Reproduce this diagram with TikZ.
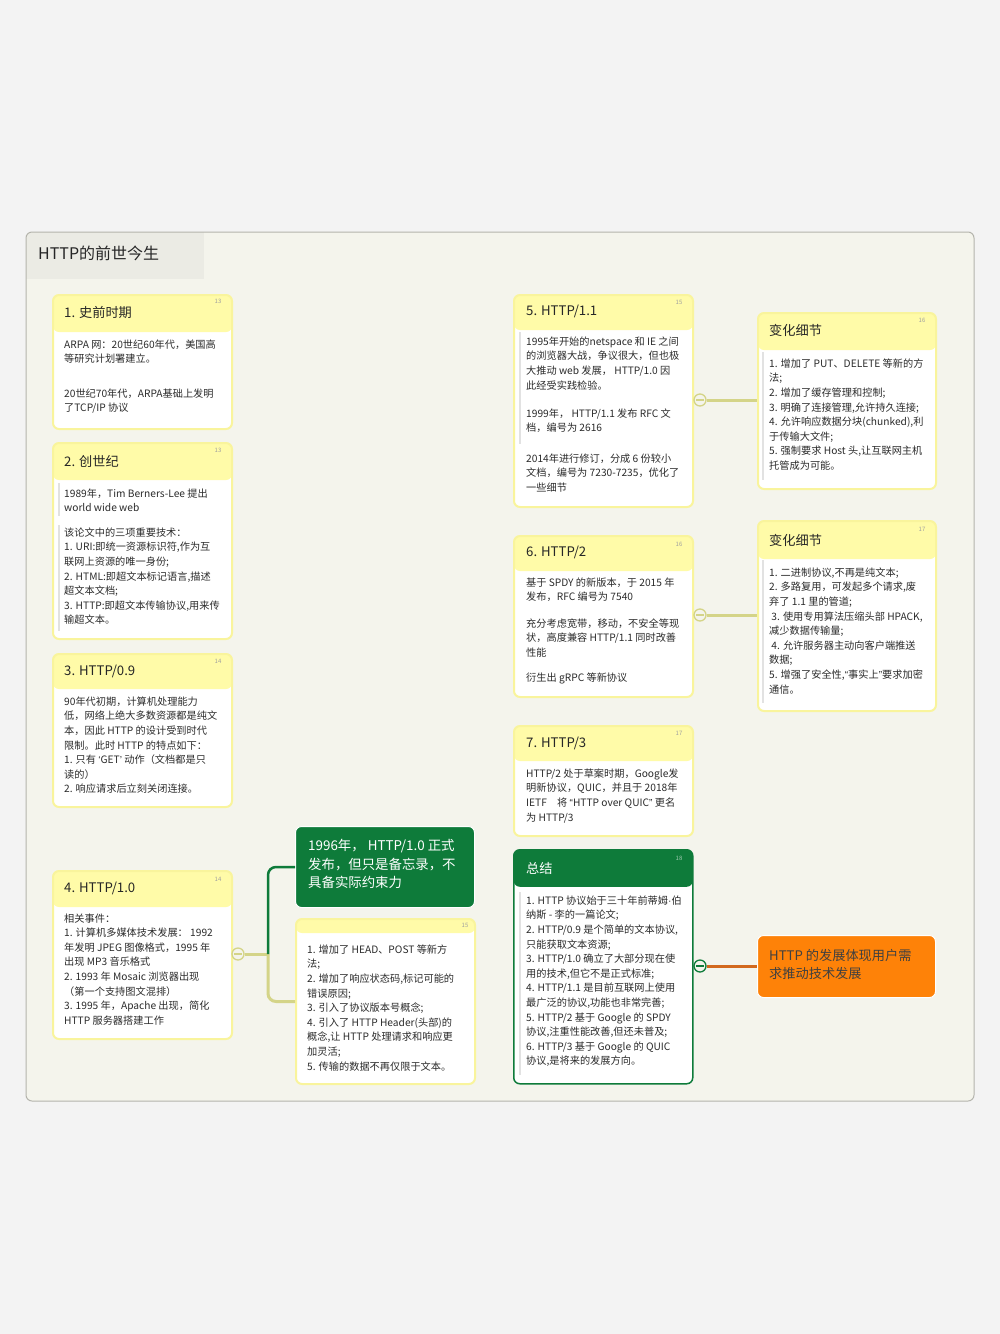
\documentclass[tikz,border=0pt]{standalone}
\usepackage{fontspec}
\setmainfont{Noto Sans CJK SC}
\newfontfamily\qf{Liberation Sans}
\usepackage{tikz}

\definecolor{pagebg}{HTML}{F3F3F3}
\definecolor{canvasbg}{HTML}{F4F4EC}
\definecolor{titlebg}{HTML}{EBEBE4}
\definecolor{framec}{HTML}{B4B4AC}
\definecolor{cardhead}{HTML}{FFFBA8}
\definecolor{cardline}{HTML}{F9F49C}
\definecolor{olive}{HTML}{D4D488}
\definecolor{mmgreen}{HTML}{0E7B3A}
\definecolor{mmorange}{HTML}{FE8208}
\definecolor{orangeline}{HTML}{D2691E}
\definecolor{txt}{HTML}{2B2B2B}
\definecolor{barc}{HTML}{E2E2E2}
\definecolor{numc}{HTML}{A0A0A0}

\tikzset{
  headh/.store in=\headh, headh=36,
  headc/.store in=\headc, headc=cardhead,
  card/.style={draw=cardline, line width=2pt, fill=white, rounded corners=6pt, inner sep=0pt,
    anchor=north west, minimum width=179pt,
    path picture={\fill[\headc] (path picture bounding box.north west) rectangle ([yshift=-\headh pt]path picture bounding box.north east);}},
  cardtitle/.style={anchor=west, inner sep=0pt, font=\fontsize{13.2}{16}\selectfont, text=black!85},
  body/.style={anchor=north west, inner sep=0pt, align=left, font=\fontsize{10.2}{14.6}\selectfont, text=txt},
  num/.style={inner sep=0pt, font=\fontsize{6}{7}\selectfont, text=numc},
  bar/.style={barc, line width=1.5pt},
  fold/.style={circle, draw=#1, line width=1.3pt, fill=canvasbg, minimum size=12pt, inner sep=0pt,
    path picture={\draw[#1, line width=1.3pt] ([xshift=-4pt]path picture bounding box.center) -- ([xshift=4pt]path picture bounding box.center);}},
  fold/.default=olive,
  branch/.style={olive, line width=3pt},
  branchg/.style={mmgreen, line width=2.5pt},
  bigbox/.style={draw=white, line width=1pt, rounded corners=6pt, inner sep=0pt, anchor=north west,
    minimum width=179pt},
  bigtext/.style={anchor=north west, inner sep=0pt, align=left, font=\fontsize{13.4}{18.5}\selectfont},
}

\begin{document}
\begin{tikzpicture}[x=1pt,y=-1pt]
\useasboundingbox (0,0) rectangle (1000,1334);
\fill[pagebg] (0,0) rectangle (1000,1334);

% canvas and title bar
\fill[canvasbg, rounded corners=6pt] (26,232) rectangle (974,1101);
\begin{scope}
\clip[rounded corners=6pt] (26,232) rectangle (974,1101);
\fill[titlebg] (26,232) rectangle (204,279);
\end{scope}
\draw[framec, rounded corners=6pt, line width=1pt] (26,232) rectangle (974,1101);
\node (ttl) [anchor=west, inner sep=0pt, font=\fontsize{16}{18}\selectfont, text=black!85] at (38,253) {HTTP的前世今生};

% 1. prehistory
\node (c1) [card, headh=37, minimum height=134pt] at (52,294) {};
\node (h1) [cardtitle] at (64,312) {1. 史前时期};
\node (n1) [num] at (218,301) {13};
\node (b1a) [body] at (64,339.4) {ARPA 网：20世纪60年代，美国高\\等研究计划署建立。};
\node (b1b) [body] at (64,388.4) {20世纪70年代，ARPA基础上发明\\了TCP/IP 协议};

% 2. genesis
\node (c2) [card, headh=37, minimum height=196pt] at (52,442) {};
\node (h2) [cardtitle] at (64,461) {2. 创世纪};
\node (n2) [num] at (218,450) {13};
\draw[bar] (59,483) -- (59,516);
\draw[bar] (59,525) -- (59,631);
\node (b2a) [body] at (64,488.4) {1989年，Tim Berners-Lee 提出\\world wide web};
\node (b2b) [body] at (64,527.4) {该论文中的三项重要技术：\\1. URI:即统一资源标识符,作为互\\联网上资源的唯一身份;\\2. HTML:即超文本标记语言,描述\\超文本文档;\\3. HTTP:即超文本传输协议,用来传\\输超文本。};

% 3. HTTP/0.9
\node (c3) [card, headh=35, minimum height=153pt] at (52,653) {};
\node (h3) [cardtitle] at (64,671) {3. HTTP/0.9};
\node (n3) [num] at (218,661) {14};
\node (b3) [body] at (64,696.4) {90年代初期，计算机处理能力\\低，网络上绝大多数资源都是纯文\\本，因此 HTTP 的设计受到时代\\限制。此时 HTTP 的特点如下：\\1. 只有 {\qf ‘}GET{\qf ’} 动作（文档都是只\\读的）\\2. 响应请求后立刻关闭连接。};

% 4. HTTP/1.0
\node (c4) [card, headh=36, minimum height=168pt] at (52,870) {};
\node (h4) [cardtitle] at (64,888) {4. HTTP/1.0};
\node (n4) [num] at (218,879) {14};
\node (b4) [body] at (64,913.4) {相关事件：\\1. 计算机多媒体技术发展： 1992\\年发明 JPEG 图像格式，1995 年\\出现 MP3 音乐格式\\2. 1993 年 Mosaic 浏览器出现\\（第一个支持图文混排）\\3. 1995 年，Apache 出现，简化\\HTTP 服务器搭建工作};

% 1996 release
\node (g4) [bigbox, fill=mmgreen, minimum height=81pt] at (295,826) {};
\node (t4) [bigtext, text=white] at (308,839) {1996年， HTTP/1.0 正式\\发布，但只是备忘录，不\\具备实际约束力};

% HTTP/1.0 changes
\node (c15) [card, headh=14, minimum height=165pt] at (295,918) {};
\node (n15) [num] at (465,925) {15};
\node (b15) [body] at (307,944.4) {1. 增加了 HEAD、POST 等新方\\法;\\2. 增加了响应状态码,标记可能的\\错误原因;\\3. 引入了协议版本号概念;\\4. 引入了 HTTP Header(头部)的\\概念,让 HTTP 处理请求和响应更\\加灵活;\\5. 传输的数据不再仅限于文本。};

% 5. HTTP/1.1
\node (c5) [card, headh=35, minimum height=212pt] at (513,294) {};
\node (h5) [cardtitle] at (526,311) {5. HTTP/1.1};
\node (n5) [num] at (679,302) {15};
\draw[bar] (520,332) -- (520,444);
\node (b5a) [body] at (526,336.4) {1995年开始的netspace 和 IE 之间\\的浏览器大战，争议很大，但也极\\大推动 web 发展， HTTP/1.0 因\\此经受实践检验。};
\node (b5b) [body] at (526,408.4) {1999年， HTTP/1.1 发布 RFC 文\\档，编号为 2616};
\node (b5c) [body] at (526,453.4) {2014年进行修订，分成 6 份较小\\文档，编号为 7230-7235，优化了\\一些细节};

% 6. HTTP/2
\node (c6) [card, headh=35, minimum height=161pt] at (513,535) {};
\node (h6) [cardtitle] at (526,552) {6. HTTP/2};
\node (n6) [num] at (679,544) {16};
\node (b6a) [body] at (526,577.4) {基于 SPDY 的新版本，于 2015 年\\发布，RFC 编号为 7540};
\node (b6b) [body] at (526,618.4) {充分考虑宽带，移动，不安全等现\\状，高度兼容 HTTP/1.1 同时改善\\性能};
\node (b6c) [body] at (526,672.4) {衍生出 gRPC 等新协议};

% 7. HTTP/3
\node (c7) [card, headh=35, minimum height=110pt] at (513,725) {};
\node (h7) [cardtitle] at (526,743) {7. HTTP/3};
\node (n7) [num] at (679,733) {17};
\node (b7) [body] at (526,768.4) {HTTP/2 处于草案时期，Google发\\明新协议，QUIC，并且于 2018年\\IETF\quad 将 {\qf “}HTTP over QUIC{\qf ”} 更名\\为 HTTP/3};

% summary
\node (cs) [card, headh=37, headc=mmgreen, draw=mmgreen, line width=1.5pt, minimum height=234pt] at (513,849) {};
\node (hs) [cardtitle, text=white] at (526,868) {总结};
\node (ns) [num, text=mmgreen!40!white] at (679,858) {18};
\draw[bar] (520,892) -- (520,1075);
\node (bs) [body] at (526,895.4) {1. HTTP 协议始于三十年前蒂姆{\qf ·}伯\\纳斯 - 李的一篇论文;\\2. HTTP/0.9 是个简单的文本协议,\\只能获取文本资源;\\3. HTTP/1.0 确立了大部分现在使\\用的技术,但它不是正式标准;\\4. HTTP/1.1 是目前互联网上使用\\最广泛的协议,功能也非常完善;\\5. HTTP/2 基于 Google 的 SPDY\\协议,注重性能改善,但还未普及;\\6. HTTP/3 基于 Google 的 QUIC\\协议,是将来的发展方向。};

% HTTP/1.1 details
\node (c16) [card, headh=37, minimum width=178pt, minimum height=176pt] at (757,312) {};
\node (h16) [cardtitle] at (769,330) {变化细节};
\node (n16) [num] at (922,320) {16};
\draw[bar] (763,352) -- (763,480);
\node (b16) [body] at (769,358.4) {1. 增加了 PUT、DELETE 等新的方\\法;\\2. 增加了缓存管理和控制;\\3. 明确了连接管理,允许持久连接;\\4. 允许响应数据分块(chunked),利\\于传输大文件;\\5. 强制要求 Host 头,让互联网主机\\托管成为可能。};

% HTTP/2 details
\node (c17) [card, headh=38, minimum width=178pt, minimum height=190pt] at (757,520) {};
\node (h17) [cardtitle] at (769,540) {变化细节};
\node (n17) [num] at (922,529) {17};
\draw[bar] (763,560) -- (763,703);
\node (b17) [body] at (769,567.4) {1. 二进制协议,不再是纯文本;\\2. 多路复用，可发起多个请求,废\\弃了 1.1 里的管道;\\\ 3. 使用专用算法压缩头部 HPACK,\\减少数据传输量;\\\ 4. 允许服务器主动向客户端推送\\数据;\\5. 增强了安全性,{\qf “}事实上{\qf ”}要求加密\\通信。};

% conclusion
\node (ob) [bigbox, fill=mmorange, minimum width=178pt, minimum height=62pt] at (757,935) {};
\node (to) [bigtext, font=\fontsize{13.2}{18}\selectfont, text=black!75] at (769,949) {HTTP 的发展体现用户需\\求推动技术发展};

% connectors
\node (k4) [fold] at (238,954) {};
\coordinate (j4) at (268,954);
\draw[branch] (k4.east) -- (j4);
\draw[branch, rounded corners=8pt] (j4) |- (c15.west);
\draw[branchg, rounded corners=8pt] (j4) |- (g4.west);

\node (k5) [fold] at (700,400) {};
\draw[branch] (k5.east) -- (k5.east -| c16.west);
\node (k6) [fold] at (700,615) {};
\draw[branch] (k6.east) -- (k6.east -| c17.west);
\node (ks) [fold=mmgreen] at (700,966) {};
\draw[branch, orangeline] (ks.east) -- (ks.east -| ob.west);

\end{tikzpicture}
\end{document}
